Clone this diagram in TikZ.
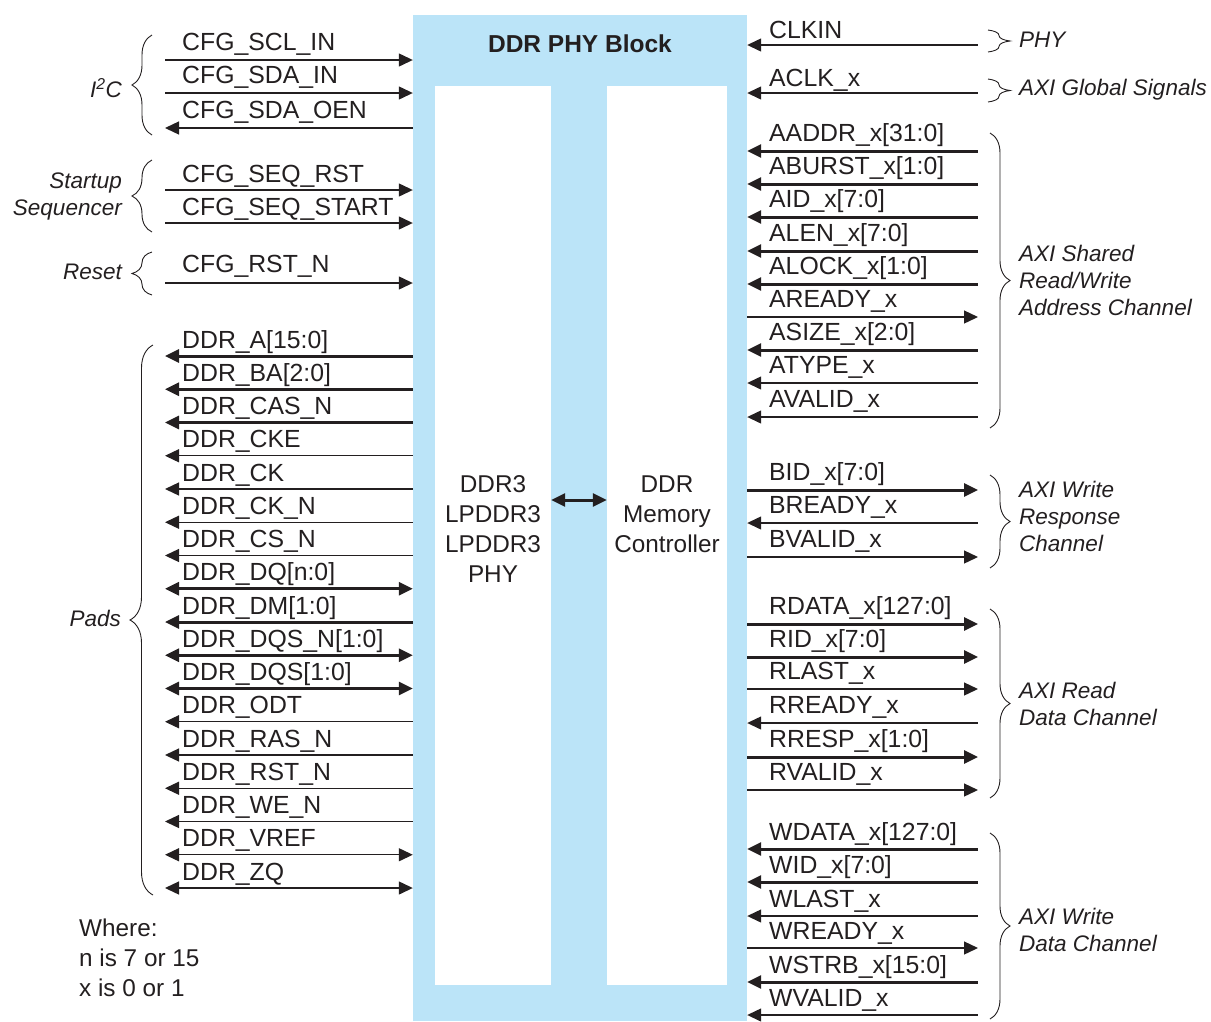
\documentclass[tikz,border=0pt]{standalone}
\usepackage{fontspec}
\setmainfont{Liberation Sans}
\usetikzlibrary{arrows.meta,decorations.pathreplacing}
\definecolor{phyblue}{RGB}{187,228,248}
\definecolor{ink}{RGB}{35,31,32}
\begin{document}
\begin{tikzpicture}[x=1pt,y=-1pt,
  sig/.style={font=\fontsize{24.8}{30}\selectfont, inner sep=0pt, anchor=base west, text=ink},
  grp/.style={font=\fontsize{22.5}{27}\selectfont\itshape, inner sep=0pt, text=ink},
  ctext/.style={font=\fontsize{24.3}{30}\selectfont, inner sep=0pt, align=center, text=ink},
  wire/.style={draw=ink, line width=1.3pt},
  bus/.style={draw=ink, line width=3pt},
  tor/.style={-{Triangle[length=14pt,width=13pt]}},
  tol/.style={{Triangle[length=14pt,width=13pt]}-},
  bid/.style={{Triangle[length=14pt,width=13pt]}-{Triangle[length=14pt,width=13pt]}},
  brc/.style={draw=ink, line width=0.9pt, decorate, decoration={brace, amplitude=#1}},
]
\useasboundingbox (0,0) rectangle (1211,1021);
% block
\node[fill=phyblue, inner sep=0pt, minimum width=334pt, minimum height=1006pt] (blk) at (580,518) {};
\node[fill=white, inner sep=0pt, minimum width=116pt, minimum height=899pt] (phy) at (493,535.5) {};
\node[fill=white, inner sep=0pt, minimum width=120pt, minimum height=899pt] (mc) at (667,535.5) {};
\node[font=\fontsize{24.5}{30}\selectfont\bfseries, text=ink, inner sep=0pt] (title) at (580,44) {DDR PHY Block};
\node[ctext] (phytxt) at (493,529) {DDR3\\LPDDR3\\LPDDR3\\PHY};
\node[ctext] (mctxt) at (667,514) {DDR\\Memory\\Controller};
\draw[bus,bid] (phy.east |- 0,500) -- (mc.west |- 0,500);

% left signals
\foreach \yy/\off/\txt/\dir/\sty [count=\i] in {
  60/10/CFG\_SCL\_IN/tor/wire,
  93/10/CFG\_SDA\_IN/tor/wire,
  128/10/CFG\_SDA\_OEN/tol/wire,
  190/8/CFG\_SEQ\_RST/tor/wire,
  223/8/CFG\_SEQ\_START/tor/wire,
  283/11/CFG\_RST\_N/tor/wire,
  356/8/DDR\_A[15:0]/tol/bus,
  389.25/8/DDR\_BA[2:0]/tol/bus,
  422.5/8/DDR\_CAS\_N/tol/bus,
  455.75/8/DDR\_CKE/tol/wire,
  489/8/DDR\_CK/tol/wire,
  522.25/8/DDR\_CK\_N/tol/wire,
  555.5/8/DDR\_CS\_N/tol/wire,
  588.75/8/DDR\_DQ[n:0]/bid/bus,
  622/8/DDR\_DM[1:0]/tol/bus,
  655.25/8/DDR\_DQS\_N[1:0]/bid/bus,
  688.5/8/DDR\_DQS[1:0]/bid/bus,
  721.75/8/DDR\_ODT/tol/wire,
  755/8/DDR\_RAS\_N/tol/wire,
  788.25/8/DDR\_RST\_N/tol/wire,
  821.5/8/DDR\_WE\_N/tol/wire,
  854.75/8/DDR\_VREF/bid/wire,
  888/8/DDR\_ZQ/bid/wire}
{
  \coordinate (L\i o) at (165,\yy);
  \coordinate (L\i i) at (blk.west |- 0,\yy);
  \node[sig] (L\i t) at (182,\yy-\off) {\txt};
  \draw[\sty,\dir] (L\i o) -- (L\i i);
}

% right signals
\foreach \yy/\off/\txt/\dir/\sty [count=\i] in {
  45/7/CLKIN/tol/wire,
  93/7/ACLK\_x/tol/wire,
  151/10/AADDR\_x[31:0]/tol/bus,
  184/10/ABURST\_x[1:0]/tol/bus,
  217/10/AID\_x[7:0]/tol/bus,
  251/10/ALEN\_x[7:0]/tol/bus,
  284/10/ALOCK\_x[1:0]/tol/bus,
  317/10/AREADY\_x/tor/wire,
  350/10/ASIZE\_x[2:0]/tol/bus,
  383/10/ATYPE\_x/tol/wire,
  417/10/AVALID\_x/tol/wire,
  490/10/BID\_x[7:0]/tor/bus,
  523/10/BREADY\_x/tol/wire,
  557/10/BVALID\_x/tor/wire,
  624/10/RDATA\_x[127:0]/tor/bus,
  657/10/RID\_x[7:0]/tor/bus,
  689/10/RLAST\_x/tor/wire,
  723/10/RREADY\_x/tol/wire,
  757/10/RRESP\_x[1:0]/tor/bus,
  790/10/RVALID\_x/tor/wire,
  849/9/WDATA\_x[127:0]/tol/bus,
  882/9/WID\_x[7:0]/tol/bus,
  916/9/WLAST\_x/tol/wire,
  948/9/WREADY\_x/tor/wire,
  982/9/WSTRB\_x[15:0]/tol/bus,
  1015/9/WVALID\_x/tol/wire}
{
  \coordinate (R\i i) at (blk.east |- 0,\yy);
  \coordinate (R\i o) at (978,\yy);
  \node[sig] (R\i t) at (769,\yy-\off) {\txt};
  \draw[\sty,\dir] (R\i i) -- (R\i o);
}

% left braces and labels
\draw[brc=20] (152,135) -- (152,35);
\node[grp, anchor=east] (gi2c) at (122,88) {I\textsuperscript{2}C};
\draw[brc=20] (152,232) -- (152,160);
\node[grp, anchor=east, align=right] (gseq) at (122,196) {Startup\\Sequencer};
\draw[brc=20] (152,295) -- (152,252);
\node[grp, anchor=east] (grst) at (122,272) {Reset};
\draw[brc=23] (153,895) -- (153,345);
\node[grp, anchor=east] (gpads) at (121,618) {Pads};

% right braces and labels
\draw[brc=22] (988,30) -- (988,52);
\node[grp, anchor=west] (gphy) at (1019,40) {PHY};
\draw[brc=22] (988,79) -- (988,102);
\node[grp, anchor=west] (gglb) at (1019,90) {AXI Global Signals};
\draw[brc=20] (990,133) -- (990,428);
\node[grp, anchor=west, align=left] (gaddr) at (1019,280) {AXI Shared\\Read/Write\\Address Channel};
\draw[brc=20] (990,475) -- (990,568);
\node[grp, anchor=west, align=left] (gresp) at (1019,516) {AXI Write\\Response\\Channel};
\draw[brc=20] (990,609) -- (990,798);
\node[grp, anchor=west, align=left] (grd) at (1019,704) {AXI Read\\Data Channel};
\draw[brc=20] (990,833) -- (990,1019);
\node[grp, anchor=west, align=left] (gwr) at (1019,930) {AXI Write\\Data Channel};

% note
\node[ctext, align=left, anchor=west] (note) at (79,958) {Where:\\n is 7 or 15\\x is 0 or 1};
\end{tikzpicture}
\end{document}
